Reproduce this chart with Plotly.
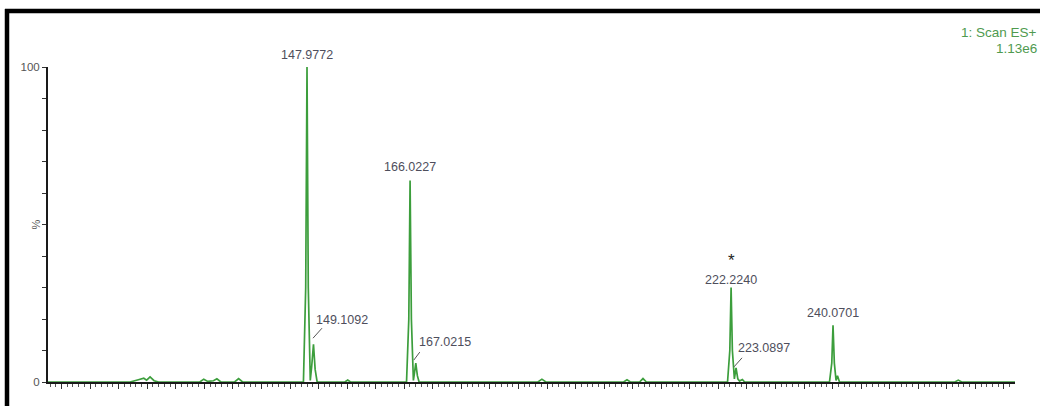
import plotly.graph_objects as go

# ---------------- data ----------------
x_range = [102.63, 271.93]

# profile spectrum (m/z, relative intensity %)
profile_mz = [102.63, 117.0, 118.6, 119.4, 119.9, 120.5, 121.2, 122.0,
              129.2, 129.9, 130.6, 131.6, 132.2, 132.9, 135.3, 136.0, 136.7,
              147.35, 147.75, 147.9772, 148.2, 148.55, 148.8, 149.1092, 149.4, 149.75,
              154.6, 155.1, 155.6,
              165.4, 165.8, 166.0227, 166.25, 166.6, 166.8, 167.0215, 167.3, 167.6,
              188.4, 189.1, 189.8,
              203.4, 204.0, 204.6, 206.2, 206.8, 207.4,
              221.6, 222.0, 222.224, 222.45, 222.8, 223.0897, 223.4, 223.7, 224.2, 224.6,
              239.45, 239.85, 240.0701, 240.3, 240.6, 240.85, 241.2,
              261.4, 262.0, 262.6, 271.93]
profile_int = [0, 0, 0.8, 1.2, 0.6, 1.6, 0.4, 0,
               0, 0.9, 0.2, 0.4, 1.0, 0, 0, 1.1, 0,
               0, 30, 100, 30, 0.5, 5, 12, 4, 0,
               0, 0.6, 0,
               0, 20, 64, 20, 0.5, 3, 6, 2, 0,
               0, 0.9, 0,
               0, 0.7, 0, 0, 1.1, 0,
               0, 10, 30, 10, 1, 4.5, 1, 0.3, 0.8, 0,
               0, 6, 18, 6, 0.5, 2, 0,
               0, 0.6, 0, 0]

# labelled centroids
peak_mz = [147.9772, 149.1092, 166.0227, 167.0215, 222.2240, 223.0897, 240.0701]
peak_int = [100, 12, 64, 6, 30, 4.5, 18]
peak_labels = ["147.9772", "149.1092", "166.0227", "167.0215", "222.2240", "223.0897", "240.0701"]

y_tickvals = [0, 10, 20, 30, 40, 50, 60, 70, 80, 90, 100]
y_ticktext = ["0", "", "", "", "", "", "", "", "", "", "100"]

header_lines = ["1: Scan ES+", "1.13e6"]

# ---------------- style ----------------
W, H = 1040, 406
ML, MR, MT, MB = 48, 25, 67, 24
PW, PH = W - ML - MR, H - MT - MB
FONT = "Liberation Sans, Arial, sans-serif"
LABEL_COLOR = "#4e4e5c"
GREEN = "#3c9e3c"


def px_x(px):
    return (px - ML) / PW


def px_y(py):
    return (H - MB - py) / PH


fig = go.Figure()
fig.add_trace(go.Scatter(x=profile_mz, y=profile_int, mode="lines",
                         line=dict(color=GREEN, width=1.7),
                         hoverinfo="x+y", showlegend=False))

# label placement: (kind, xshift, yshift, slash offsets)
placement = {
    "147.9772": ("center", 0, 12, None),
    "149.1092": ("side", 1, 24, (-0.5, 6, 8.5, 16)),
    "166.0227": ("center", 0, 13, None),
    "167.0215": ("side", 1, 21, (-2, 3, 4, 11)),
    "222.2240": ("center", 0, 8, None),
    "223.0897": ("side", 0, 20, (-2, 1, 6, 10)),
    "240.0701": ("center", 0, 12, None),
}

annotations = []
shapes = []
for mz, h, lab in zip(peak_mz, peak_int, peak_labels):
    kind, xs, ys, slash = placement[lab]
    annotations.append(dict(
        x=mz, y=h, xref="x", yref="y", text=lab, showarrow=False,
        xanchor="center" if kind == "center" else "left", yanchor="middle",
        xshift=xs, yshift=ys, font=dict(family=FONT, size=12.5, color=LABEL_COLOR)))
    if slash:
        shapes.append(dict(type="line", xref="x", yref="y",
                           xsizemode="pixel", ysizemode="pixel",
                           xanchor=mz, yanchor=h,
                           x0=slash[0], y0=slash[1], x1=slash[2], y1=slash[3],
                           line=dict(color="#555555", width=1)))

# star above 222.2240
annotations.append(dict(x=peak_mz[4], y=peak_int[4], xref="x", yref="y", text="*",
                        showarrow=False, xanchor="center", yanchor="middle",
                        yshift=27, font=dict(family=FONT, size=17, color="#222222")))

# % axis label
annotations.append(dict(x=px_x(35), y=50, xref="paper", yref="y", text="%",
                        showarrow=False, textangle=-90, xanchor="center", yanchor="middle",
                        font=dict(family=FONT, size=11, color="#555555")))

# header text (top right)
annotations.append(dict(x=px_x(1039), y=px_y(33), xref="paper", yref="paper",
                        text=header_lines[0], showarrow=False, xanchor="right", yanchor="middle",
                        font=dict(family=FONT, size=13.5, color="#4f9a4f")))
annotations.append(dict(x=px_x(1039), y=px_y(48), xref="paper", yref="paper",
                        text=header_lines[1], showarrow=False, xanchor="right", yanchor="middle",
                        font=dict(family=FONT, size=13.5, color="#4f9a4f")))

# black frame (top and left)
shapes.append(dict(type="line", xref="paper", yref="paper",
                   x0=px_x(5), x1=px_x(1045), y0=px_y(11), y1=px_y(11),
                   line=dict(color="black", width=4.5)))
shapes.append(dict(type="line", xref="paper", yref="paper",
                   x0=px_x(7), x1=px_x(7), y0=px_y(9), y1=px_y(410),
                   line=dict(color="black", width=4.5)))

fig.update_layout(
    width=W, height=H,
    margin=dict(l=ML, r=MR, t=MT, b=MB, pad=0),
    paper_bgcolor="white", plot_bgcolor="white",
    showlegend=False,
    annotations=annotations, shapes=shapes,
    xaxis=dict(range=x_range, showgrid=False, zeroline=False,
               showline=True, linecolor="#1a1a1a", linewidth=2,
               ticks="outside", dtick=5, tick0=100, ticklen=5, tickwidth=1,
               tickcolor="#333333", showticklabels=False,
               minor=dict(dtick=1, ticks="outside", ticklen=3, tickcolor="#555555"),
               layer="above traces", fixedrange=True),
    yaxis=dict(range=[0, 100], showgrid=False, zeroline=False,
               showline=True, linecolor="#1a1a1a", linewidth=2,
               ticks="outside", tickmode="array", tickvals=y_tickvals, ticktext=y_ticktext,
               ticklen=4, tickwidth=1, tickcolor="#333333",
               tickfont=dict(family=FONT, size=11.5, color="#555555"),
               fixedrange=True),
)

fig.write_html("out.html", config={"displayModeBar": False},
               post_script="document.body.style.margin='0';document.body.style.overflow='hidden';")
